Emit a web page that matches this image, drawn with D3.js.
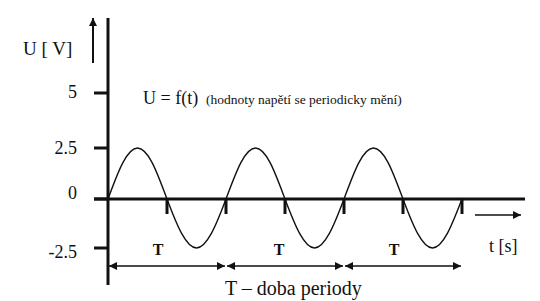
<!DOCTYPE html>
<html><head><meta charset="utf-8">
<script src="https://cdn.jsdelivr.net/npm/d3@7"></script>
<style>body{margin:0;background:#fff}svg{display:block}</style>
</head><body><svg id="c" width="540" height="301" font-family="'Liberation Serif', 'Times New Roman', Tinos, 'DejaVu Serif', serif"></svg>
<script>
// Data (time in periods, voltage in V)
const tValues = [0,0.125,0.25,0.375,0.5,0.625,0.75,0.875,1,1.125,1.25,1.375,1.5,1.625,1.75,1.875,2,2.125,2.25,2.375,2.5,2.625,2.75,2.875,3];
const uValues = [0,1.77,2.5,1.77,0,-1.77,-2.5,-1.77,0,1.77,2.5,1.77,0,-1.77,-2.5,-1.77,0,1.77,2.5,1.77,0,-1.77,-2.5,-1.77,0];
const yTickValues = [-2.5,0,2.5,5];
const yTickLabels = ["-2.5","0","2.5","5"];
const xTickValues = [0.5,1,1.5,2,2.5,3];
const periods = [[0,1],[1,2],[2,3]];
const periodLabels = ["T","T","T"];

const svg = d3.select("#c");
const x = d3.scaleLinear().domain([0,3.534]).range([108,525]);
const y = d3.scaleLinear().domain([-2.5,0,2.5,5]).range([248,199,148,93]);

const defs = svg.append("defs");
defs.append("marker").attr("id","ah").attr("viewBox","0 0 10 10").attr("refX",10).attr("refY",5)
  .attr("markerWidth",10).attr("markerHeight",8).attr("markerUnits","userSpaceOnUse").attr("orient","auto-start-reverse")
  .append("path").attr("d","M0,0L10,5L0,10Z").attr("fill","#111");

// y axis line
svg.append("line").attr("x1",108).attr("x2",108).attr("y1",18).attr("y2",285).attr("stroke","#111").attr("stroke-width",3);
// zero line (x axis)
svg.append("line").attr("x1",94).attr("x2",x(3.534)).attr("y1",y(0)).attr("y2",y(0)).attr("stroke","#111").attr("stroke-width",3);
// y ticks
svg.selectAll(".yt").data(yTickValues).enter().append("line")
  .attr("x1",94).attr("x2",108).attr("y1",d=>y(d)).attr("y2",d=>y(d)).attr("stroke","#111").attr("stroke-width",3);
const yOff = {"-2.5":4, "0":-6, "2.5":0, "5":-1};
svg.selectAll(".yl").data(yTickValues).enter().append("text")
  .attr("x",77).attr("y",(d,i)=>y(d)+yOff[yTickLabels[i]]).attr("dy","0.35em").attr("text-anchor","end")
  .attr("font-size",18).attr("fill","#111").text((d,i)=>yTickLabels[i]);
// x ticks (below axis)
svg.selectAll(".xt").data(xTickValues).enter().append("line")
  .attr("x1",d=>x(d)).attr("x2",d=>x(d)).attr("y1",y(0)).attr("y2",y(0)+15).attr("stroke","#111").attr("stroke-width",3);

// sine curve
const pts = tValues.map((t,i)=>[t,uValues[i]]);
svg.append("path").datum(pts).attr("fill","none").attr("stroke","#111").attr("stroke-width",1.4)
  .attr("d",d3.line().x(d=>x(d[0])).y(d=>y(d[1])).curve(d3.curveNatural));

// U axis arrow
svg.append("line").attr("x1",93).attr("x2",93).attr("y1",63).attr("y2",18).attr("stroke","#111").attr("stroke-width",2).attr("marker-end","url(#ah)");
svg.append("text").attr("x",23).attr("y",55).attr("font-size",19).attr("fill","#111").text("U [ V]");
// t arrow
svg.append("line").attr("x1",475).attr("x2",521).attr("y1",215).attr("y2",215).attr("stroke","#111").attr("stroke-width",1.5).attr("marker-end","url(#ah)");
svg.append("text").attr("x",489).attr("y",252).attr("font-size",18).attr("fill","#111").text("t [s]");

// period double arrows
svg.selectAll(".pa").data(periods).enter().append("line")
  .attr("x1",d=>x(d[0])+1).attr("x2",d=>x(d[1])-1).attr("y1",266).attr("y2",266)
  .attr("stroke","#111").attr("stroke-width",1.3).attr("marker-start","url(#ah)").attr("marker-end","url(#ah)");
svg.selectAll(".pl").data(periods).enter().append("text")
  .attr("x",(d,i)=>x(d[0])+(i==1?53:50)).attr("y",255).attr("text-anchor","middle")
  .attr("font-size",16).attr("font-weight","bold").attr("fill","#111").text((d,i)=>periodLabels[i]);

svg.append("text").attr("x",225).attr("y",295).attr("font-size",20).attr("fill","#111").text("T – doba periody");
const ft = svg.append("text").attr("x",143).attr("y",104).attr("font-size",18).attr("fill","#111");
ft.append("tspan").text("U = f(t)");
ft.append("tspan").attr("x",206).attr("font-size",13.5).text("(hodnoty napětí se periodicky mění)");
</script></body></html>
